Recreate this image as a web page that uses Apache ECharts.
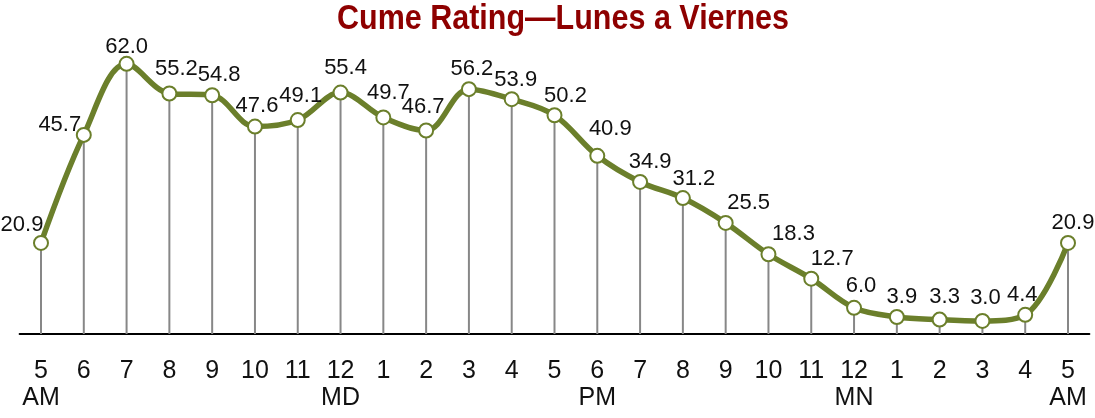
<!DOCTYPE html>
<html>
<head>
<meta charset="utf-8">
<script src="https://cdn.jsdelivr.net/npm/echarts@6/dist/echarts.min.js"></script>
<style>
html,body{margin:0;padding:0;background:#fff;}
#chart{width:1095px;height:418px;}
</style>
</head>
<body>
<div id="chart"></div>
<script>
// ---- data ----
var hours = ['5','6','7','8','9','10','11','12','1','2','3','4','5','6','7','8','9','10','11','12','1','2','3','4','5'];
var periods = ['AM','','','','','','','MD','','','','','','PM','','','','','','MN','','','','','AM'];
var cume = [20.9,45.7,62.0,55.2,54.8,47.6,49.1,55.4,49.7,46.7,56.2,53.9,50.2,40.9,34.9,31.2,25.5,18.3,12.7,6.0,3.9,3.3,3.0,4.4,20.9];
var titleText = 'Cume Rating\u2014Lunes a Viernes';

// ---- label placement (styling) ----
var labelOffsets = [[-19,-18],[-24,-10],[0,-17],[7,-25],[7,-20],[2,-21],[3,-24],[5,-25],[5,-25],[-3,-24],[3,-20],[4,-19],[11,-19],[13,-27],[10,-20],[11,-19],[23,-20],[25,-20],[21,-20],[7,-22],[5,-20],[5,-23],[3,-23],[-3,-20],[5,-20]];

var categories = hours.map(function(h,i){ return periods[i] ? h + '\n' + periods[i] : h; });
var olive = '#6B7F2B';
var FONT = '"Liberation Sans Narrow","Arial Narrow","Liberation Sans",Arial,sans-serif';

var lineData = cume.map(function(v,i){
  return {value:v, label:{offset:labelOffsets[i]}};
});

var chart = echarts.init(document.getElementById('chart'));
chart.setOption({
  animation:false,
  backgroundColor:'#ffffff',
  graphic:[{
    type:'text',
    x:563, y:1,
    scaleY:1.17,
    style:{
      text:titleText,
      fill:'#8E0000',
      font:'bold 30.5px ' + FONT,
      textAlign:'center',
      textVerticalAlign:'top'
    },
    z:10
  }],
  grid:{left:19.6, right:5.6, top:29, bottom:84, containLabel:false},
  xAxis:{
    type:'category',
    data:categories,
    boundaryGap:true,
    axisLine:{show:true, lineStyle:{color:'#000', width:2}},
    axisTick:{show:false},
    splitLine:{show:false},
    axisLabel:{
      interval:0, margin:24,
      color:'#111', fontFamily:FONT, fontSize:25, lineHeight:27, align:'center'
    }
  },
  yAxis:{
    type:'value', min:0, max:70,
    show:false,
    splitLine:{show:false}
  },
  series:[
    {
      type:'bar',
      data:cume,
      barWidth:2,
      itemStyle:{color:'#878787'},
      silent:true,
      z:1
    },
    {
      type:'line',
      data:lineData,
      smooth:0.35,
      symbol:'circle',
      symbolSize:14,
      lineStyle:{color:olive, width:5.5},
      itemStyle:{color:'#ffffff', borderColor:olive, borderWidth:2},
      label:{
        show:true, position:'inside',
        formatter:function(p){ return p.value.toFixed(1); },
        color:'#111', fontFamily:FONT, fontSize:22
      },
      z:3
    }
  ]
});
</script>
</body>
</html>
